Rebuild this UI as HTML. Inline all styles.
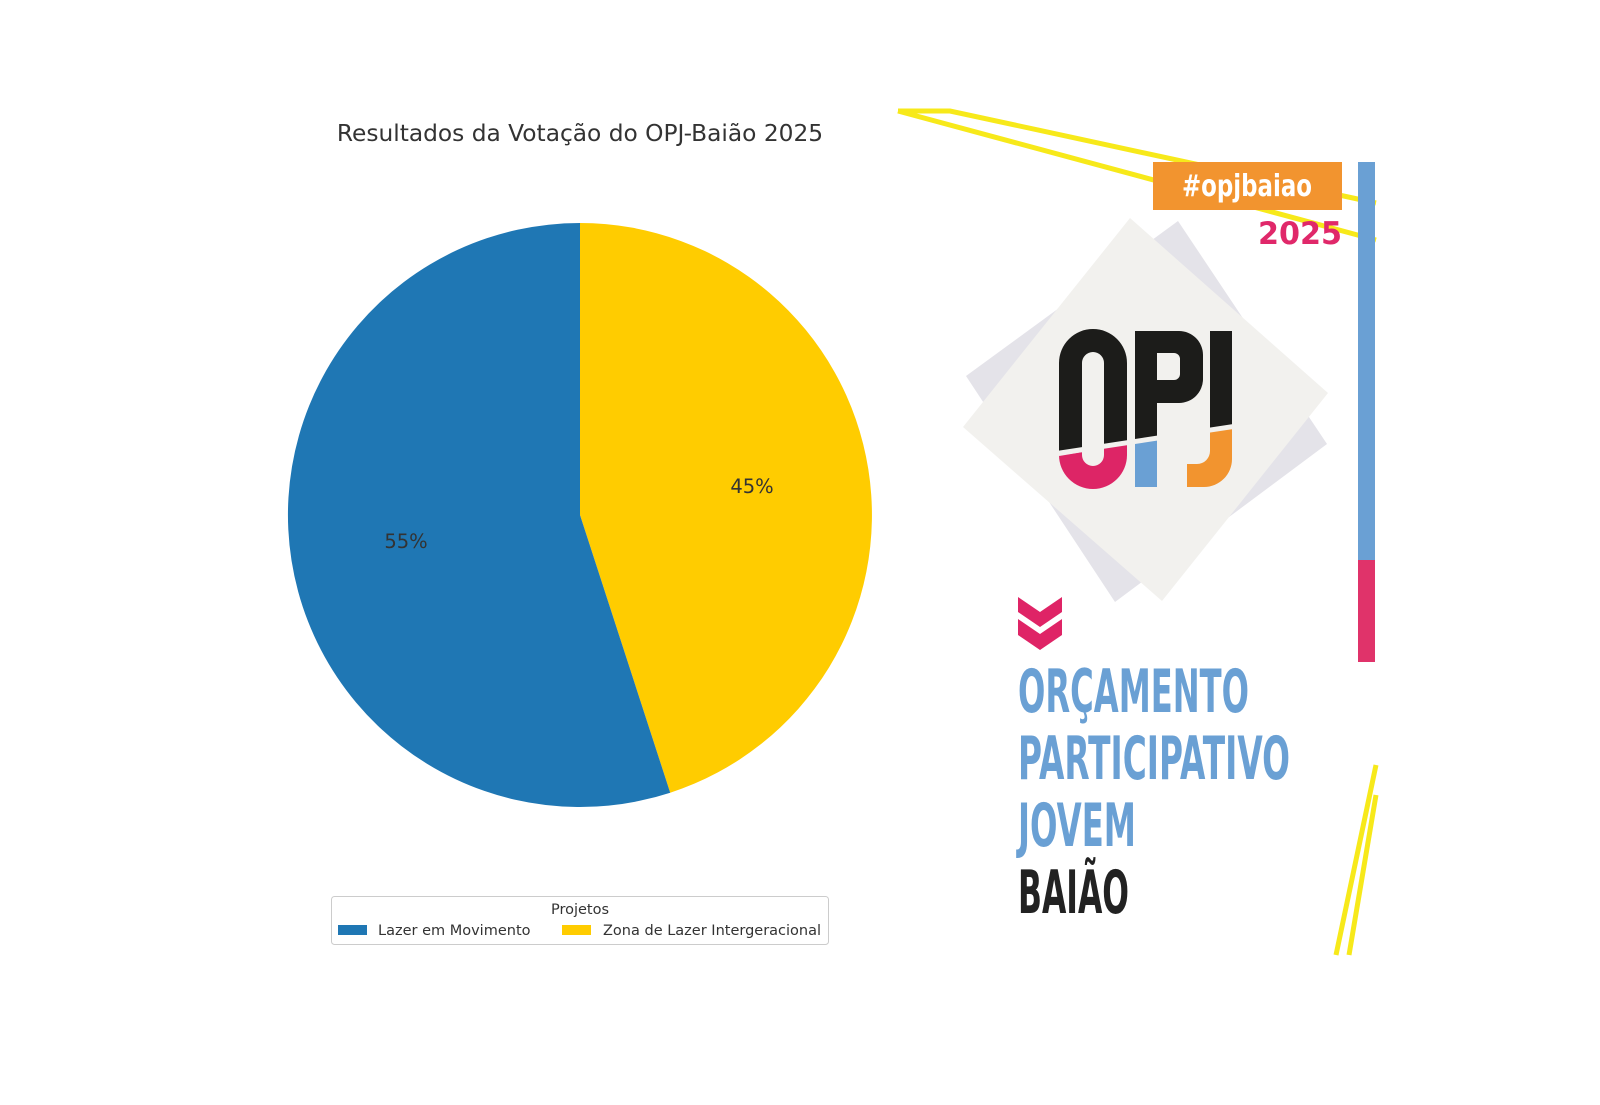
<!DOCTYPE html>
<html><head><meta charset="utf-8"><style>
html,body{margin:0;padding:0;background:#fff}
svg{display:block}
text{font-family:"DejaVu Sans","Liberation Sans",sans-serif}
</style></head><body>
<svg width="1600" height="1105" viewBox="0 0 1600 1105" xmlns="http://www.w3.org/2000/svg">
<rect width="1600" height="1105" fill="#fff"/>
<text x="580" y="141" font-size="23.3" fill="#333" text-anchor="middle">Resultados da Votação do OPJ-Baião 2025</text>
<!-- pie -->
<path d="M580,515 L580,223 A292,292 0 0 1 670.2,792.7 Z" fill="#ffcc00"/>
<path d="M580,515 L670.2,792.7 A292,292 0 1 1 580,223 Z" fill="#1f77b4"/>
<text x="406" y="548" font-size="19.5" fill="#333" text-anchor="middle">55%</text>
<text x="752" y="493" font-size="19.5" fill="#333" text-anchor="middle">45%</text>
<!-- legend -->
<rect x="331.5" y="896.5" width="497" height="48" rx="3" fill="#fff" stroke="#ccc"/>
<text x="580" y="914" font-size="14.5" fill="#333" text-anchor="middle">Projetos</text>
<rect x="338" y="925" width="29" height="10" fill="#1f77b4"/>
<text x="378" y="935" font-size="14.5" fill="#333">Lazer em Movimento</text>
<rect x="562" y="925" width="29" height="10" fill="#ffcc00"/>
<text x="603" y="935" font-size="14.5" fill="#333">Zona de Lazer Intergeracional</text>
<!-- logo -->
<polyline points="898,111 950,111 1376,203" fill="none" stroke="#f7e91a" stroke-width="5"/>
<polyline points="898,111 1376,240" fill="none" stroke="#f7e91a" stroke-width="5"/>
<polygon points="1178,221 1327,444 1115,602 966,376" fill="#e4e3e9"/>
<polygon points="1130,218 1328,393 1162,601 963,427" fill="#f2f1ee"/>
<rect x="1153" y="162" width="189" height="48" fill="#f2942f"/>
<text x="1247" y="196" font-size="30" font-weight="bold" fill="#fff" text-anchor="middle" font-family="Liberation Sans Narrow, Liberation Sans, sans-serif" textLength="130" lengthAdjust="spacingAndGlyphs">#opjbaiao</text>
<text x="1342" y="244" font-size="31" font-weight="bold" fill="#e0286a" text-anchor="end" font-family="Liberation Sans, sans-serif" textLength="84" lengthAdjust="spacingAndGlyphs">2025</text>
<rect x="1358" y="162" width="17" height="400" fill="#6aa0d4"/>
<rect x="1358" y="560" width="17" height="102" fill="#e0336a"/>
<defs>
<clipPath id="top"><polygon points="1050,320 1240,320 1240,423 1050,452"/></clipPath>
<clipPath id="bot"><polygon points="1050,457 1240,428 1240,500 1050,500"/></clipPath>
</defs>
<g clip-path="url(#top)" fill="#1c1c1a">
<path d="M1093,329 a34,34 0 0 1 34,34 v92 a34,34 0 0 1 -68,0 v-92 a34,34 0 0 1 34,-34 z M1093,352 a11,11 0 0 0 -11,11 v92 a11,11 0 0 0 22,0 v-92 a11,11 0 0 0 -11,-11 z" fill-rule="evenodd"/>
<path d="M1135,331 h44 a24,24 0 0 1 24,24 v24 a24,24 0 0 1 -24,24 h-22 v84 h-22 z M1157,353 v27 h17 a6,6 0 0 0 6,-6 v-15 a6,6 0 0 0 -6,-6 z" fill-rule="evenodd"/>
<rect x="1210" y="331" width="22" height="130"/>
</g>
<g clip-path="url(#bot)">
<path d="M1093,329 a34,34 0 0 1 34,34 v92 a34,34 0 0 1 -68,0 v-92 a34,34 0 0 1 34,-34 z M1093,352 a11,11 0 0 0 -11,11 v92 a11,11 0 0 0 22,0 v-92 a11,11 0 0 0 -11,-11 z" fill-rule="evenodd" fill="#dd2566"/>
<rect x="1135" y="400" width="22" height="87" fill="#6aa0d4"/>
<path d="M1210,331 h22 v128 a28,28 0 0 1 -28,28 h-17 v-23 h10 a13,13 0 0 0 13,-13 z" fill="#f2942f"/>
</g>
<line x1="1059" y1="455" x2="1232" y2="426" stroke="#f2f1ee" stroke-width="2"/>
<polygon points="1018,597 1040,612 1062,597 1062,612 1040,627 1018,612" fill="#df2466"/>
<polygon points="1018,619 1040,634 1062,619 1062,635 1040,650 1018,635" fill="#df2466"/>
<g font-family="Liberation Sans Narrow, Liberation Sans, sans-serif" font-weight="bold" font-size="60">
<text x="1018" y="712" fill="#6aa0d4" textLength="231" lengthAdjust="spacingAndGlyphs">ORÇAMENTO</text>
<text x="1018" y="779" fill="#6aa0d4" textLength="272" lengthAdjust="spacingAndGlyphs">PARTICIPATIVO</text>
<text x="1018" y="846" fill="#6aa0d4" textLength="118" lengthAdjust="spacingAndGlyphs">JOVEM</text>
<text x="1018" y="913" fill="#222" textLength="111" lengthAdjust="spacingAndGlyphs">BAIÃO</text>
</g>
<line x1="1376" y1="765" x2="1336" y2="955" stroke="#f7e91a" stroke-width="5"/>
<line x1="1376" y1="795" x2="1349" y2="955" stroke="#f7e91a" stroke-width="5"/>
</svg>
</body></html>
